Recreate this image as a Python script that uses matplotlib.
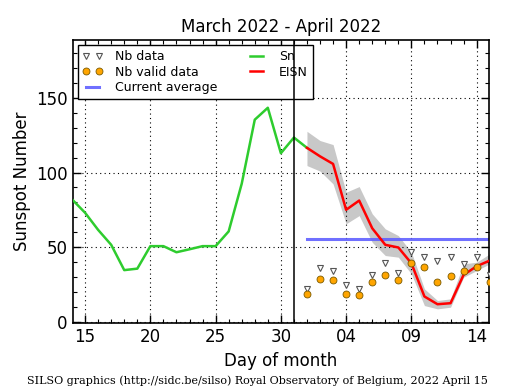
import matplotlib
matplotlib.use("Agg")
import matplotlib.pyplot as plt
from matplotlib.ticker import MultipleLocator, FixedLocator, FixedFormatter

# Day index: March days as-is, April days = 31 + day
sn_days = [14, 15, 16, 17, 18, 19, 20, 21, 22, 23, 24, 25, 26, 27, 28, 29, 30, 31, 32]
sn_vals = [82, 73, 61.5, 51.5, 34.5, 35.5, 50.6, 50.6, 46.5, 48.5, 50.6, 50.6, 60.5, 92.5, 135.5, 143.5, 113, 123.5, 116.6]

eisn_days = [32, 33, 34, 35, 36, 37, 38, 39, 40, 41, 42, 43, 44, 45, 46]
eisn_vals = [116.6, 110.9, 105.8, 75, 81.2, 62.6, 51.5, 49.7, 39.1, 16.8, 11.6, 12.3, 31.3, 37.1, 40.9]
eisn_upper = [127.7, 121.5, 118.8, 86.8, 90.6, 72.3, 62.2, 57.7, 46.5, 21.9, 14.1, 15.2, 38.7, 39.8, 45.4]
eisn_lower = [104.7, 101, 92.4, 65.6, 71.1, 53.2, 44.3, 43.2, 32, 10.7, 8.5, 9.6, 29.7, 34.2, 38.7]

nb_data = [21.9, 35.8, 33.6, 24.8, 22.1, 30.9, 39.6, 32.9, 46.8, 43.4, 40.7, 43.4, 38.9, 43.4, 31.3]
nb_valid = [18.6, 28.4, 27.7, 18.6, 17.9, 26.4, 31.3, 28.0, 39.1, 36.7, 26.4, 30.7, 33.6, 36.9, 26.4]

current_avg = 55.5
avg_start = 32
month_boundary = 31

xtick_pos = [15, 20, 25, 30, 35, 40, 45]
xtick_labels = ["15", "20", "25", "30", "04", "09", "14"]

fig = plt.figure(figsize=(5.15, 3.9), dpi=100)
ax = fig.add_axes([72.7 / 515, 1 - 323.3 / 390, (489.3 - 72.7) / 515, (323.3 - 40) / 390])

ax.fill_between(eisn_days, eisn_lower, eisn_upper, color="#c8c8c8", linewidth=0, zorder=1)
ax.plot(sn_days, sn_vals, color="#2ecc2e", linewidth=1.8, label="Sn", zorder=3)
ax.plot(eisn_days, eisn_vals, color="red", linewidth=1.8, label="EISN", zorder=4)
ax.plot(eisn_days, nb_data, linestyle="none", marker="v", markersize=4,
        markerfacecolor="white", markeredgecolor="#555555", markeredgewidth=0.8,
        label="Nb data", zorder=5)
ax.plot(eisn_days, nb_valid, linestyle="none", marker="o", markersize=5,
        markerfacecolor="orange", markeredgecolor="#7a5a00", markeredgewidth=0.6,
        label="Nb valid data", zorder=5)
ax.plot([avg_start, 46.5], [current_avg, current_avg], color="#6060ff", linewidth=2.2,
        alpha=0.9, label="Current average", zorder=2)
ax.axvline(month_boundary, color="black", linewidth=1.1, zorder=6)

ax.set_xlim(14.05, 45.97)
ax.set_ylim(-1.2, 189)

ax.xaxis.set_major_locator(FixedLocator(xtick_pos))
ax.xaxis.set_major_formatter(FixedFormatter(xtick_labels))
ax.xaxis.set_minor_locator(MultipleLocator(1))
ax.yaxis.set_major_locator(MultipleLocator(50))
ax.yaxis.set_minor_locator(MultipleLocator(10))
ax.tick_params(which="both", direction="in", top=True, right=True, labelsize=12)
ax.tick_params(which="major", length=6, width=1)
ax.tick_params(which="minor", length=3, width=0.8)
ax.grid(True, which="major", linestyle=(0, (1, 3)), color="black", linewidth=0.8)
for s in ax.spines.values():
    s.set_linewidth(1.2)

ax.set_title("March 2022 - April 2022", fontsize=12)
ax.set_xlabel("Day of month", fontsize=12)
ax.set_ylabel("Sunspot Number", fontsize=12)

handles, labels = ax.get_legend_handles_labels()
order = [labels.index(n) for n in ["Nb data", "Nb valid data", "Current average", "Sn", "EISN"]]
leg = ax.legend([handles[i] for i in order], [labels[i] for i in order], ncol=2,
                loc="upper left", fontsize=9, numpoints=2, fancybox=False,
                framealpha=1, edgecolor="black", borderaxespad=0.4,
                handlelength=1.6, handletextpad=1.0, columnspacing=2.3,
                labelspacing=0.2)
leg.get_frame().set_linewidth(1.0)

fig.text(0.5, 1 - 381 / 390, "SILSO graphics (http://sidc.be/silso) Royal Observatory of Belgium, 2022 April 15",
         ha="center", va="center", fontsize=8, family="DejaVu Serif")

fig.savefig("out.png", dpi=100)
